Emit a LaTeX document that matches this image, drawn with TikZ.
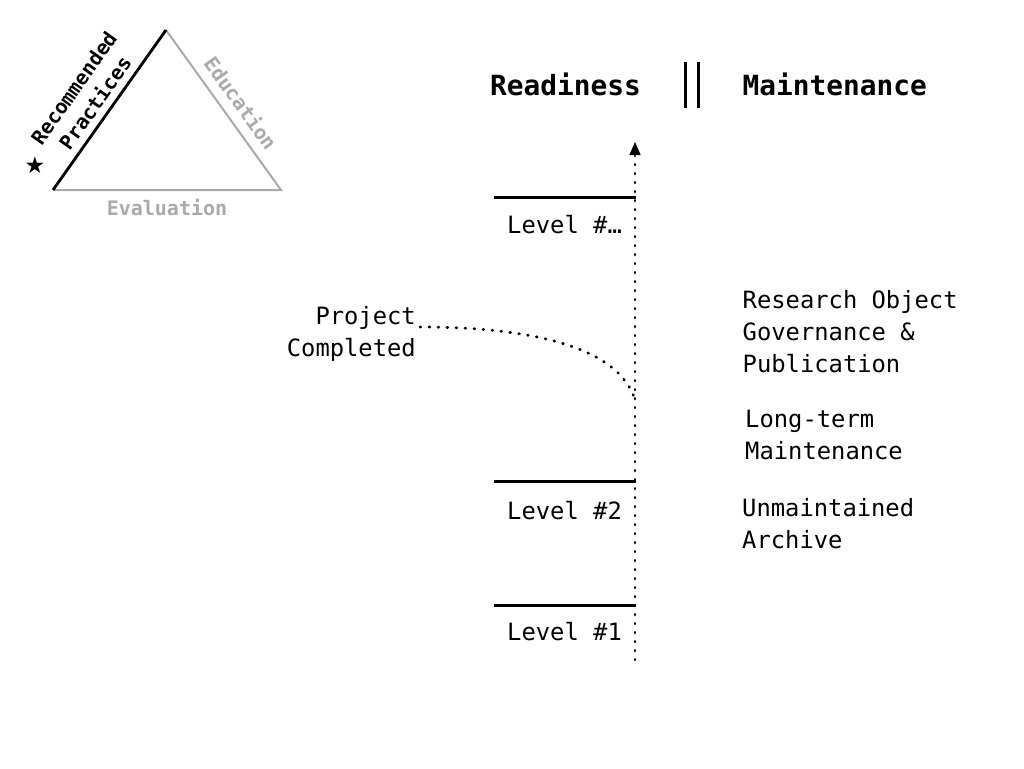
\documentclass[tikz,border=0pt]{standalone}
\usepackage{fontspec}
\setmainfont{DejaVu Sans Mono}
\newfontfamily\starfont{DejaVu Sans}
\usetikzlibrary{arrows.meta}
\definecolor{tgray}{HTML}{AAAAAA}
\begin{document}
\begin{tikzpicture}[x=1pt,y=1pt,
  lbl/.style={inner sep=0pt, font=\fontsize{23.8}{32}\selectfont},
  hdr/.style={inner sep=0pt, font=\fontsize{27.8}{33}\selectfont\bfseries},
  trilbl/.style={inner sep=0pt, font=\fontsize{20}{26}\selectfont\bfseries},
  lvlline/.style={line width=3pt},
  dotline/.style={line width=2.8pt, line cap=round, dash pattern=on 0.8pt off 8.2pt},
]
\useasboundingbox (0,0) rectangle (1024,-768);

% triangle
\coordinate (A) at (53,-190);
\coordinate (B) at (166,-30);
\coordinate (C) at (281,-190);
\draw[tgray, line width=2pt] (B) -- (C) -- (A);
\draw[black, line width=2.8pt] (A) -- (B);
\node[trilbl, align=center, rotate=54.8] (rp) at (84.5,-95.5) {Recommended\\Practices};
\node[trilbl, tgray, rotate=-54.3] (edu) at (241,-103) {Education};
\node[trilbl, tgray] (eva) at (167,-208) {Evaluation};
\node[inner sep=0pt, font=\starfont\fontsize{23}{23}\selectfont] (star) at (35,-165) {★};

% headers
\node[hdr, anchor=base west] (ready) at (490,-95) {Readiness};
\node[hdr, anchor=base west] (maint) at (742.5,-95) {Maintenance};
\coordinate (b1t) at (685,-62); \coordinate (b1b) at (685,-108);
\coordinate (b2t) at (698,-62); \coordinate (b2b) at (698,-108);
\draw[line width=3pt] (b1t) -- (b1b);
\draw[line width=3pt] (b2t) -- (b2b);

% axis
\coordinate (ax0) at (635,-660);
\coordinate (ax1) at (635,-156);
\coordinate (axa) at (635,-152);
\coordinate (tip) at (635,-142);
\draw[dotline] (ax0) -- (ax1);
\draw[line width=1pt, -{Triangle[length=13pt,width=11pt]}] (axa) -- (tip);

% levels
\coordinate (l3a) at (494,-197); \coordinate (l3b) at (636,-197);
\coordinate (l2a) at (494,-481); \coordinate (l2b) at (636,-481);
\coordinate (l1a) at (494,-605); \coordinate (l1b) at (636,-605);
\draw[lvlline] (l3a) -- (l3b);
\draw[lvlline] (l2a) -- (l2b);
\draw[lvlline] (l1a) -- (l1b);
\node[lbl, anchor=base west] (lv3) at (507,-233) {Level \#…};
\node[lbl, anchor=base west] (lv2) at (507,-519) {Level \#2};
\node[lbl, anchor=base west] (lv1) at (507,-640) {Level \#1};

% project completed
\node[lbl, anchor=base east, align=right] (proj) at (416,-356) {Project\\Completed};
\coordinate (pc) at (420,-327);
\coordinate (ax2) at (635,-400);
\draw[dotline] (pc) .. controls (540,-327) and (620,-350) .. (ax2);

% maintenance labels
\node[lbl, anchor=base west, align=left] (rog) at (742.5,-372) {Research Object\\Governance \&\\Publication};
\node[lbl, anchor=base west, align=left] (ltm) at (745,-459) {Long-term\\Maintenance};
\node[lbl, anchor=base west, align=left] (ua) at (742,-548) {Unmaintained\\Archive};
\end{tikzpicture}
\end{document}
